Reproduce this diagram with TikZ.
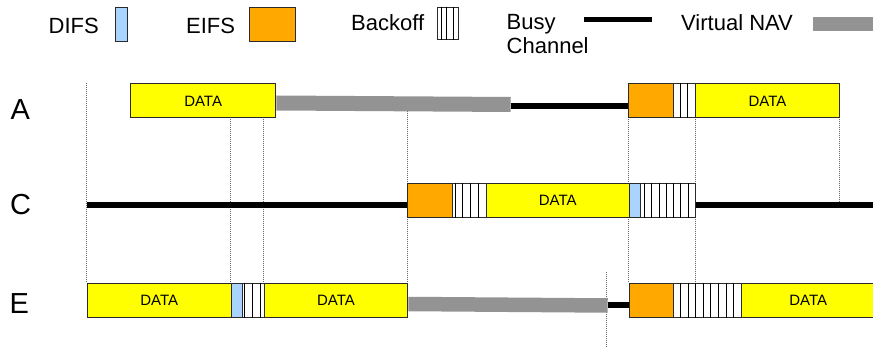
\documentclass[tikz,border=0pt]{standalone}
\usepackage{fontspec}
\setmainfont{Liberation Sans}
\usetikzlibrary{calc}
\definecolor{dataY}{HTML}{FFFF00}
\definecolor{eifsO}{HTML}{FFA800}
\definecolor{difsB}{HTML}{A8D4FF}
\definecolor{navG}{HTML}{939393}
\definecolor{edgeC}{HTML}{2A2A2A}
\tikzset{
  blk/.style={draw=edgeC, line width=1pt, inner sep=0pt, anchor=north west, minimum height=34pt},
  databox/.style={blk, fill=dataY, font=\fontsize{15}{15}\selectfont},
  eifsbox/.style={blk, fill=eifsO},
  difsbox/.style={blk, fill=difsB},
  bobox/.style={blk, fill=white},
  stripe/.style={draw=black, line width=1pt},
  busy/.style={draw=black, line width=6pt},
  nav/.style={draw=navG, line width=15pt},
  vdot/.style={draw=gray!80!black, line width=0.8pt, dash pattern=on 1pt off 1pt},
  legtxt/.style={inner sep=0pt, anchor=base west, font=\fontsize{22}{23.3}\selectfont},
  rowtxt/.style={inner sep=0pt, anchor=base west, font=\fontsize{29}{29}\selectfont},
}
\newcommand\bolines[2]{\foreach \xx in {#2}{\path (\xx,0) coordinate (tmpx); \draw[stripe] (tmpx |- #1.north) -- (tmpx |- #1.south);}}
\begin{document}
\begin{tikzpicture}[x=1pt,y=-1pt]
\useasboundingbox (0,0) rectangle (873,347);
% dotted guide lines
\draw[vdot] (86.7,83) -- (86.7,283);
\draw[vdot] (230.7,117) -- (230.7,283);
\draw[vdot] (263.5,117) -- (263.5,283);
\draw[vdot] (407.3,111) -- (407.3,283);
\draw[vdot] (628.5,117) -- (628.5,283);
\draw[vdot] (695.5,117) -- (695.5,283);
\draw[vdot] (839,117) -- (839,205);
\draw[vdot] (606.5,272) -- (606.5,347);

% legend
\node[legtxt] (lDIFS) at (48.5,33.3) {DIFS};
\node[difsbox, minimum width=11.7pt, minimum height=33.4pt] (kDIFS) at (115,7.3) {};
\node[legtxt] (lEIFS) at (186,33.3) {EIFS};
\node[eifsbox, minimum width=46pt, minimum height=33.4pt] (kEIFS) at (249.3,7.3) {};
\node[legtxt] (lBO) at (351,30.7) {Backoff};
\node[bobox, minimum width=21.6pt, minimum height=32.3pt] (kBO) at (436.7,6.7) {};
\bolines{kBO}{441,446,453}
\node[legtxt] (lBusy) at (506.5,30) {Busy};
\node[legtxt] (lChan) at (506.5,53.3) {Channel};
\coordinate (kB1) at (584,19.5);
\coordinate (kB2) at (651.7,19.5);
\draw[busy, line width=4.5pt] (kB1) -- (kB2);
\node[legtxt] (lNAV) at (681,31) {Virtual NAV};
\coordinate (kN1) at (812.7,23.7);
\coordinate (kN2) at (873,23.7);
\draw[nav, line width=14pt] (kN1) -- (kN2);

% row labels
\node[rowtxt] (rA) at (10.5,119.3) {A};
\node[rowtxt] (rC) at (10,214.5) {C};
\node[rowtxt] (rE) at (9.5,313.3) {E};

% Row A
\node[databox, minimum width=145.3pt] (dA1) at (130,83.5) {DATA};
\coordinate (nA2) at (510.7,104.5);
\draw[nav] (dA1.east |- 0,103) -- (nA2);
\node[eifsbox, minimum width=44.4pt] (eA) at (628.3,83.5) {};
\draw[busy] (510.7,106) coordinate (bAs) -- (bAs -| eA.west);
\node[bobox, minimum width=22.3pt] (bA) at (672.7,83.5) {};
\bolines{bA}{680,687.5}
\node[databox, minimum width=144pt] (dA2) at (695,83.5) {DATA};

% Row C
\coordinate (cL) at (86.7,205.5);
\node[eifsbox, minimum width=44.4pt] (eC) at (407.3,183.3) {};
\draw[busy] (cL) -- (cL -| eC.west);
\node[bobox, minimum width=34pt] (bC) at (451.7,183.3) {};
\bolines{bC}{455,462.7,470.3,478}
\node[databox, minimum width=143pt] (dC) at (485.7,183.3) {DATA};
\node[difsbox, minimum width=11.3pt] (fC) at (628.7,183.3) {};
\node[bobox, minimum width=55pt] (bC2) at (640,183.3) {};
\bolines{bC2}{644.3,651.7,659,666.3,673.3,680.7,688}
\coordinate (cR) at (874,205.5);
\draw[busy] (bC2.east |- cR) -- (cR);

% Row E
\node[databox, minimum width=144pt] (dE1) at (86.7,282.7) {DATA};
\node[difsbox, minimum width=11pt] (fE) at (230.7,282.7) {};
\node[bobox, minimum width=22pt] (bE) at (241.7,282.7) {};
\bolines{bE}{244,252.7,260}
\node[databox, minimum width=143.6pt] (dE2) at (263.7,282.7) {DATA};
\coordinate (nE2) at (607.7,305.5);
\draw[nav, line width=14.5pt] (dE2.east |- 0,304) -- (nE2);
\node[eifsbox, minimum width=44pt] (eE) at (628.7,282.7) {};
\draw[busy, line width=5.5pt] (607.7,305) coordinate (bEs) -- (bEs -| eE.west);
\node[bobox, minimum width=68pt] (bE2) at (672.7,282.7) {};
\bolines{bE2}{680.3,688,695.7,703.3,710.7,718.3,726,733.3}
\node[databox, minimum width=134pt] (dE3) at (740.7,282.7) {DATA};
\end{tikzpicture}
\end{document}
